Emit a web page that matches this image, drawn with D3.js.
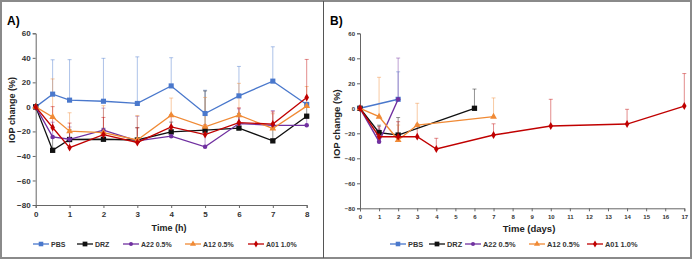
<!DOCTYPE html>
<html>
<head>
<meta charset="utf-8">
<script src="https://cdn.jsdelivr.net/npm/d3@7"></script>
<style>
  body { margin: 0; background: #fff; }
  svg { display: block; font-family: "Liberation Sans", Arial, sans-serif; }
</style>
</head>
<body>
<div id="chart"></div>
<script>
// Data - panel A (hours)
const timeA = [0, 0.5, 1, 2, 3, 4, 5, 6, 7, 8]
const pbsA = [0, 10.4, 5.5, 4.6, 2.8, 17.1, -5.4, 9, 21, 2]
const pbsAErr = [0, 28, 33, 35, 38, 23, 19, 24, 28, 0]
const drzA = [0, -35.4, -26.6, -26.4, -27, -20.4, -19, -17.3, -27.7, -7.6]
const drzAErr = [0, 10, 8, 9, 10, 8, 32, 12, 10, 10]
const a22A = [0, -24.5, -26.4, -19, -27.7, -23.9, -32.6, -13.6, -15, -15]
const a22AErr = [0, 12, 10, 18, 20, 8, 10, 12, 12, 8]
const a12A = [0, -8.2, -19.8, -21, -27, -6.8, -16.3, -6.8, -17.6, 0.6]
const a12AErr = [0, 31, 15, 22, 20, 14, 24, 26, 12, 16]
const a01A = [0, -16.8, -33.2, -22.6, -29, -16.3, -22.6, -12.8, -14, 7.7]
const a01AErr = [0, 17, 20, 14, 12, 10, 8, 12, 10, 31]

// Data - panel B (days)
const pbsBTime = [0, 2]
const pbsB = [0, 7.2]
const pbsBErr = [0, 22]
const drzBTime = [0, 1, 2, 6]
const drzB = [0, -19.5, -21.4, 0]
const drzBErr = [0, 6, 14, 15.4]
const a22BTime = [0, 1, 2]
const a22B = [0, -26.7, 7.2]
const a22BErr = [0, 10, 33]
const a12BTime = [0, 1, 2, 3, 7]
const a12B = [0, -6.7, -25.4, -13.4, -6.7]
const a12BErr = [0, 31.5, 12, 17.4, 15]
const a01BTime = [0, 1, 2, 3, 4, 7, 10, 14, 17]
const a01B = [0, -22.7, -22.7, -22.7, -32.6, -21.4, -14.2, -12.6, 1.8]
const a01BErr = [0, 8, 12, 10, 8.6, 9, 21.4, 11.8, 26]

const yTicks = [60, 40, 20, 0, -20, -40, -60, -80]
const xTicksA = d3.range(0, 9)
const xTicksB = d3.range(0, 18)
const legendNames = ['PBS', 'DRZ', 'A22 0.5%', 'A12 0.5%', 'A01 1.0%']

const styles = [
  { color: '#4a78cc', symbol: d3.symbolSquare, size: 26 },
  { color: '#111111', symbol: d3.symbolSquare, size: 28 },
  { color: '#7030a0', symbol: d3.symbolCircle, size: 16 },
  { color: '#f08a35', symbol: d3.symbolTriangle, size: 20 },
  { color: '#c00000', symbol: d3.symbolDiamond, size: 18 },
]

const width = 693
const height = 263

const svg = d3.select('#chart')
  .append('svg')
  .attr('width', width)
  .attr('height', height)

// frame
svg.append('rect')
  .attr('x', 1).attr('y', 1)
  .attr('width', 690).attr('height', 257)
  .attr('fill', 'none')
  .attr('stroke', '#8a8a8a')
  .attr('stroke-width', 2)

svg.append('line')
  .attr('x1', 323.5).attr('x2', 323.5)
  .attr('y1', 1).attr('y2', 258)
  .attr('stroke', '#555')
  .attr('stroke-width', 1)

function drawPanel(p) {
  const xScale = d3.scaleLinear().domain(p.xDomain).range(p.xRange)
  const yScale = d3.scaleLinear().domain([-80, 60]).range(p.yRange)

  const g = svg.append('g')

  g.append('text')
    .attr('x', p.labelX).attr('y', 25)
    .attr('font-size', 12).attr('font-weight', 'bold')
    .text(p.label)

  // y axis
  const yAxis = d3.axisLeft(yScale).tickValues(yTicks).tickSize(3).tickPadding(2)
  const yg = g.append('g')
    .attr('transform', `translate(${p.xRange[0]},0)`)
    .call(yAxis)
  yg.select('.domain').attr('stroke', '#666')
  yg.selectAll('.tick line').attr('stroke', '#666')
  yg.selectAll('text')
    .attr('font-size', p.tickFont).attr('font-weight', 'bold')
    .attr('fill', '#333').attr('font-family', 'Liberation Sans, Arial')

  // x axis
  const xAxis = d3.axisBottom(xScale).tickValues(p.xTicks).tickSize(3).tickPadding(3)
  const xg = g.append('g')
    .attr('transform', `translate(0,${p.yRange[0]})`)
    .call(xAxis)
  xg.select('.domain').attr('stroke', '#666')
  xg.selectAll('.tick line').attr('stroke', '#666')
  xg.selectAll('text')
    .attr('font-size', p.tickFont).attr('font-weight', 'bold')
    .attr('fill', '#333').attr('font-family', 'Liberation Sans, Arial')

  // titles
  g.append('text')
    .attr('x', p.xTitleX).attr('y', p.xTitleY)
    .attr('text-anchor', 'middle')
    .attr('font-size', p.titleFont).attr('font-weight', 'bold')
    .attr('fill', '#222')
    .text(p.xTitle)

  g.append('text')
    .attr('transform', `translate(${p.yTitleX},${p.yTitleY}) rotate(-90)`)
    .attr('text-anchor', 'middle')
    .attr('font-size', p.titleFont).attr('font-weight', 'bold')
    .attr('fill', '#222')
    .text('IOP change (%)')

  const line = d3.line()
    .x(d => xScale(d.t))
    .y(d => yScale(d.v))

  // error bars first, then lines, then markers
  p.series.forEach((s, i) => {
    const st = styles[i]
    const pts = s.t.map((t, j) => ({ t, v: s.v[j], e: s.e[j] }))
    const eg = g.append('g').attr('stroke', st.color).attr('stroke-opacity', 0.45).attr('stroke-width', 1)
    pts.filter(d => d.e > 0).forEach(d => {
      const x = xScale(d.t)
      eg.append('line').attr('x1', x).attr('x2', x)
        .attr('y1', yScale(d.v)).attr('y2', yScale(d.v + d.e))
      eg.append('line').attr('x1', x - 2).attr('x2', x + 2)
        .attr('y1', yScale(d.v + d.e)).attr('y2', yScale(d.v + d.e))
    })
  })

  p.series.forEach((s, i) => {
    const st = styles[i]
    const pts = s.t.map((t, j) => ({ t, v: s.v[j] }))
    g.append('path')
      .datum(pts)
      .attr('d', line)
      .attr('fill', 'none')
      .attr('stroke', st.color)
      .attr('stroke-width', p.lineWidth)

    g.append('g')
      .selectAll('path')
      .data(pts)
      .join('path')
      .attr('transform', d => `translate(${xScale(d.t)},${yScale(d.v)})`)
      .attr('d', d3.symbol().type(st.symbol).size(st.size))
      .attr('fill', st.color)
  })

  // legend
  legendNames.forEach((name, i) => {
    const st = styles[i]
    const mx = p.legendX[i]
    const lg = g.append('g').attr('transform', `translate(${mx},244)`)
    lg.append('line')
      .attr('x1', -8).attr('x2', 8)
      .attr('stroke', st.color).attr('stroke-width', 1.3)
    lg.append('path')
      .attr('d', d3.symbol().type(st.symbol).size(st.size * 0.8))
      .attr('fill', st.color)
    lg.append('text')
      .attr('x', 10).attr('y', 2.5)
      .attr('font-size', p.legendFont).attr('font-weight', 'bold')
      .attr('fill', '#333')
      .text(name)
  })
}

drawPanel({
  label: 'A)', labelX: 7,
  xDomain: [0, 8], xRange: [35.7, 306.7], yRange: [205, 33.3],
  xTicks: xTicksA, tickFont: 8, titleFont: 9, lineWidth: 1.3,
  xTitle: 'Time (h)', xTitleX: 169, xTitleY: 231,
  yTitleX: 15, yTitleY: 110,
  legendFont: 7,
  legendX: [41, 85, 131, 193, 256],
  series: [
    { t: timeA, v: pbsA, e: pbsAErr },
    { t: timeA, v: drzA, e: drzAErr },
    { t: timeA, v: a22A, e: a22AErr },
    { t: timeA, v: a12A, e: a12AErr },
    { t: timeA, v: a01A, e: a01AErr },
  ],
})

drawPanel({
  label: 'B)', labelX: 330,
  xDomain: [0, 17], xRange: [360, 684.3], yRange: [208.3, 33.3],
  xTicks: xTicksB, tickFont: 6, titleFont: 9.5, lineWidth: 1.4,
  xTitle: 'Time (days)', xTitleX: 529, xTitleY: 232,
  yTitleX: 340, yTitleY: 124,
  legendFont: 7.4,
  legendX: [398, 437, 473, 537, 595],
  series: [
    { t: pbsBTime, v: pbsB, e: pbsBErr },
    { t: drzBTime, v: drzB, e: drzBErr },
    { t: a22BTime, v: a22B, e: a22BErr },
    { t: a12BTime, v: a12B, e: a12BErr },
    { t: a01BTime, v: a01B, e: a01BErr },
  ],
})
</script>
</body>
</html>
